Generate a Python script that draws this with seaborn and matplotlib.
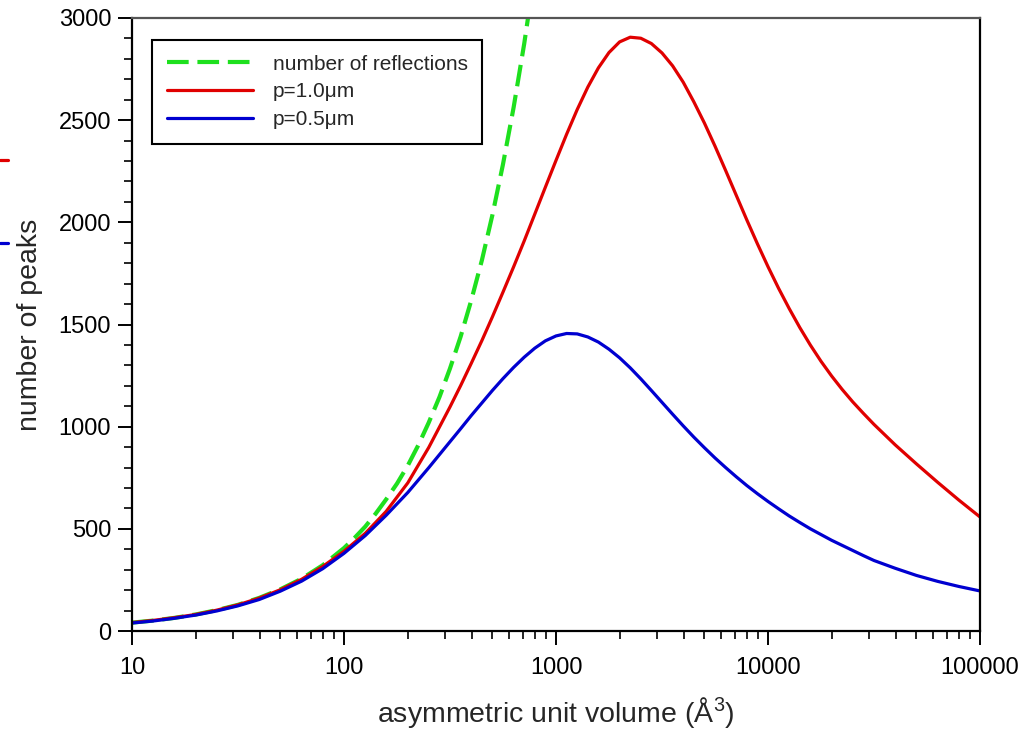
import numpy as np
import pandas as pd
import matplotlib
matplotlib.use("Agg")
import matplotlib.pyplot as plt
import matplotlib.ticker as mticker
from matplotlib.lines import Line2D
import seaborn as sns

# Number of reflections against asymmetric unit volume (Å^3)
volume_refl = [10, 12.6, 15.8, 20, 25.1, 31.6, 39.8, 50.1, 63.1, 79.4, 100,
               112, 126, 141, 158, 178, 200, 224, 251, 282, 316, 355, 398, 447,
               501, 562, 631, 708, 794]
n_reflections = [41, 51, 64, 81, 102, 128, 162, 204, 256, 322, 406,
                 455, 511, 574, 644, 722, 810, 909, 1020, 1145, 1284, 1441, 1617, 1814,
                 2035, 2283, 2562, 2874, 3225]

# Number of peaks for two p values
volume = [10, 12.6, 15.8, 20, 25.1, 31.6, 39.8, 50.1, 63.1, 79.4, 100,
          126, 158, 200, 251, 316,
          355, 398, 447, 501, 562, 631, 708, 794, 891, 1000,
          1122, 1259, 1413, 1585, 1778, 1995, 2239, 2512, 2818, 3162,
          3548, 3981, 4467, 5012, 5623, 6310, 7079, 7943, 8913, 10000,
          11220, 12589, 14125, 15849, 17783, 19953, 22387, 25119, 28184, 31623,
          39811, 50119, 63096, 79433, 100000]
peaks_p10 = [41, 52, 65, 81, 102, 128, 161, 202, 253, 316, 390,
             478, 585, 725, 898, 1096,
             1201, 1309, 1421, 1537, 1658, 1782, 1909, 2040, 2172, 2303,
             2431, 2552, 2662, 2756, 2831, 2883, 2906, 2901, 2875, 2829,
             2766, 2686, 2590, 2486, 2373, 2254, 2133, 2012, 1895, 1783,
             1677, 1578, 1485, 1399, 1320, 1248, 1182, 1121, 1065, 1011,
             911, 818, 728, 641, 558]
peaks_p05 = [39, 49, 62, 78, 98, 123, 154, 195, 244, 305, 380,
             467, 566, 678, 799, 926,
             990, 1054, 1116, 1177, 1235, 1290, 1340, 1384, 1420, 1444,
             1456, 1454, 1439, 1414, 1379, 1337, 1288, 1234, 1177, 1119,
             1061, 1004, 949, 897, 847, 800, 755, 712, 672, 634,
             598, 563, 531, 500, 472, 444, 419, 394, 369, 345,
             307, 272, 243, 218, 196]

series_labels = ["number of reflections", "p=1.0\u03bcm", "p=0.5\u03bcm"]
series_colors = ["#1ee01e", "#e00000", "#0000d0"]

sns.set_style("ticks")
plt.rcParams["font.family"] = ["Liberation Sans", "DejaVu Sans"]
plt.rcParams["mathtext.fontset"] = "custom"
plt.rcParams["mathtext.rm"] = "Liberation Sans"
plt.rcParams["mathtext.it"] = "Liberation Sans:italic"

fig = plt.figure(figsize=(10.35, 7.3), dpi=100)
ax = fig.add_axes([132 / 1035, 99 / 730, 848 / 1035, 613 / 730])

df_refl = pd.DataFrame({"volume": volume_refl, "count": n_reflections})
df_p10 = pd.DataFrame({"volume": volume, "count": peaks_p10})
df_p05 = pd.DataFrame({"volume": volume, "count": peaks_p05})

sns.lineplot(data=df_refl, x="volume", y="count", ax=ax, color=series_colors[0],
             lw=3.0, linestyle=(0, (5.2, 2.1)), label=series_labels[0])
sns.lineplot(data=df_p10, x="volume", y="count", ax=ax, color=series_colors[1],
             lw=2.3, label=series_labels[1])
sns.lineplot(data=df_p05, x="volume", y="count", ax=ax, color=series_colors[2],
             lw=2.3, label=series_labels[2])

ax.set_xscale("log")
ax.set_xlim(10, 100000)
ax.set_ylim(0, 3000)

ax.xaxis.set_major_locator(mticker.LogLocator(base=10, numticks=10))
ax.xaxis.set_minor_locator(mticker.LogLocator(base=10, subs=np.arange(2, 10), numticks=20))
ax.xaxis.set_major_formatter(mticker.FuncFormatter(lambda v, _: f"{v:g}"))
ax.xaxis.set_minor_formatter(mticker.NullFormatter())
ax.yaxis.set_major_locator(mticker.MultipleLocator(500))
ax.yaxis.set_minor_locator(mticker.MultipleLocator(100))

ax.tick_params(axis="both", which="major", direction="out", length=10, width=1.4,
               labelsize=17, color="black", labelcolor="black")
ax.tick_params(axis="both", which="minor", direction="out", length=6, width=1.2,
               color="black")
ax.tick_params(axis="x", which="major", pad=9)
ax.tick_params(axis="y", which="major", pad=5)
ax.tick_params(top=False, right=False, which="both")

for side in ["left", "bottom", "right", "top"]:
    ax.spines[side].set_visible(True)
    ax.spines[side].set_color("black")
    ax.spines[side].set_linewidth(1.6)
ax.spines["top"].set_color("#555555")

ax.set_xlabel("asymmetric unit volume (\u00c5$^3$)", fontsize=20.5, labelpad=11)
ax.set_ylabel("number of peaks", fontsize=20.5, labelpad=11)
ax.grid(False)

leg = ax.legend(loc="upper left", bbox_to_anchor=(20 / 848, 591 / 613), borderaxespad=0,
                fontsize=15, frameon=True, fancybox=False, handlelength=4.15,
                handletextpad=0.95, labelspacing=0.42, borderpad=0.7)
leg.get_frame().set_edgecolor("black")
leg.get_frame().set_linewidth(1.5)
leg.get_frame().set_alpha(1)

# coloured key marks at the left margin
fig.add_artist(Line2D([0, 8 / 1035], [1 - 160 / 730, 1 - 160 / 730], color=series_colors[1],
                      lw=2.3, transform=fig.transFigure))
fig.add_artist(Line2D([0, 8 / 1035], [1 - 243 / 730, 1 - 243 / 730], color=series_colors[2],
                      lw=2.3, transform=fig.transFigure))

fig.savefig("out.png", dpi=100, facecolor="white")
